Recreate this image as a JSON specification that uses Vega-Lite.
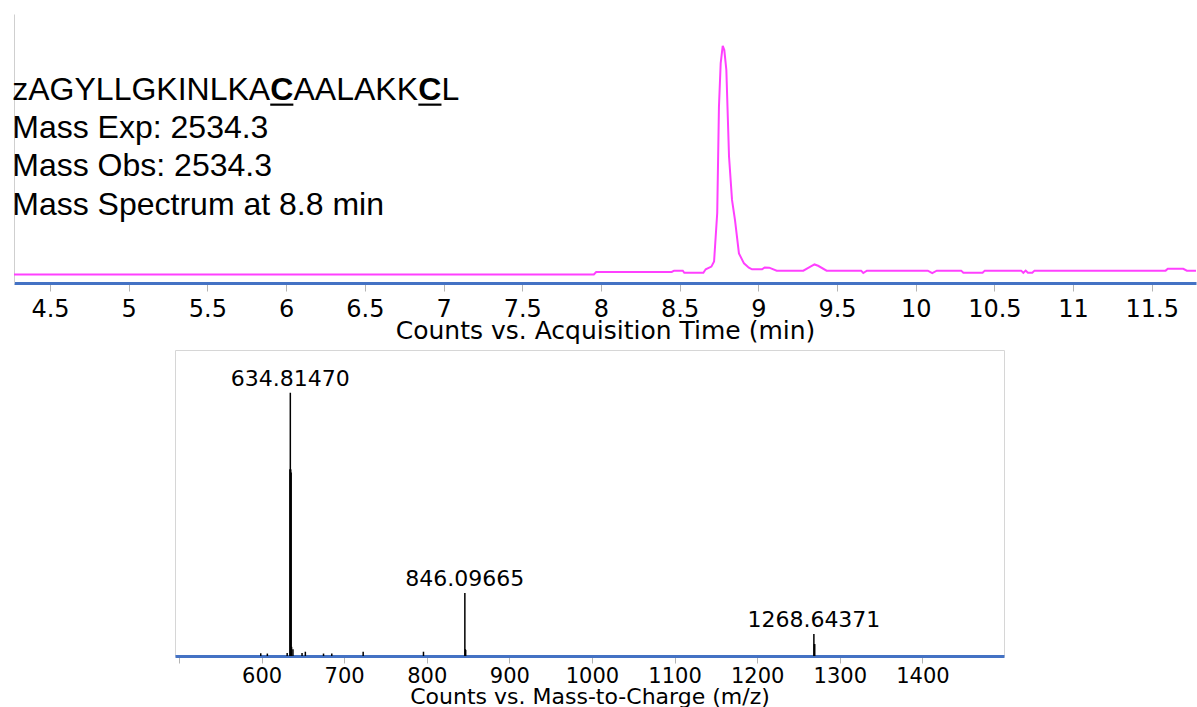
{
  "$schema": "https://vega.github.io/schema/vega-lite/v6.json",
  "padding": {"left": 10, "top": 14, "right": 0, "bottom": 0},
  "background": "white",
  "spacing": 6,
  "config": {
    "view": {"stroke": null},
    "font": "DejaVu Sans",
    "axis": {"labelColor": "#000000", "titleColor": "#000000", "titleFontWeight": "normal", "grid": false}
  },
  "vconcat": [
    {
      "width": 1182,
      "height": 269,
      "data": {"values": [
        {"time": 4.271, "counts": 3.2}, {"time": 7.955, "counts": 3.2}, {"time": 7.970, "counts": 4.1},
        {"time": 8.450, "counts": 4.1}, {"time": 8.465, "counts": 4.6}, {"time": 8.520, "counts": 4.6},
        {"time": 8.530, "counts": 3.8}, {"time": 8.651, "counts": 3.8}, {"time": 8.666, "counts": 5.1},
        {"time": 8.702, "counts": 6.1}, {"time": 8.719, "counts": 8.0}, {"time": 8.739, "counts": 26.0},
        {"time": 8.750, "counts": 65.5}, {"time": 8.761, "counts": 81.7}, {"time": 8.774, "counts": 88.2},
        {"time": 8.784, "counts": 86.6}, {"time": 8.797, "counts": 79.2}, {"time": 8.814, "counts": 47.0},
        {"time": 8.833, "counts": 30.9}, {"time": 8.852, "counts": 23.4}, {"time": 8.877, "counts": 11.0},
        {"time": 8.909, "counts": 7.3}, {"time": 8.940, "counts": 5.7}, {"time": 8.960, "counts": 5.1},
        {"time": 9.024, "counts": 5.1}, {"time": 9.041, "counts": 5.8}, {"time": 9.069, "counts": 5.7},
        {"time": 9.117, "counts": 4.6}, {"time": 9.286, "counts": 4.6}, {"time": 9.323, "counts": 5.8},
        {"time": 9.357, "counts": 6.9}, {"time": 9.380, "counts": 6.4}, {"time": 9.434, "counts": 4.6},
        {"time": 9.653, "counts": 4.6}, {"time": 9.667, "counts": 3.7}, {"time": 9.690, "counts": 4.6},
        {"time": 10.077, "counts": 4.6}, {"time": 10.105, "counts": 3.7}, {"time": 10.134, "counts": 4.6},
        {"time": 10.289, "counts": 4.6}, {"time": 10.303, "counts": 3.8}, {"time": 10.425, "counts": 3.8},
        {"time": 10.439, "counts": 4.6}, {"time": 10.670, "counts": 4.6}, {"time": 10.684, "counts": 3.8},
        {"time": 10.699, "counts": 4.6}, {"time": 10.713, "counts": 3.8}, {"time": 10.741, "counts": 3.8},
        {"time": 10.755, "counts": 4.6}, {"time": 11.588, "counts": 4.6}, {"time": 11.602, "counts": 5.3},
        {"time": 11.700, "counts": 5.3}, {"time": 11.723, "counts": 4.6}, {"time": 11.781, "counts": 4.6}
      ]},
      "layer": [
        {
          "mark": {"type": "line", "color": "#ff40ff", "strokeWidth": 2},
          "encoding": {
            "x": {
              "field": "time", "type": "quantitative",
              "scale": {"domain": [4.271, 11.781], "nice": false, "zero": false},
              "axis": {
                "title": "Counts vs. Acquisition Time (min)",
                "values": [4.5, 5, 5.5, 6, 6.5, 7, 7.5, 8, 8.5, 9, 9.5, 10, 10.5, 11, 11.5],
                "format": ".1~f",
                "domainColor": "#4472C4", "domainWidth": 3,
                "tickColor": "#b4b4b4", "tickSize": 8, "tickWidth": 1,
                "labelFontSize": 24, "labelPadding": 6, "labelFlush": false, "labelOverlap": false,
                "titleFontSize": 25, "titlePadding": -3
              }
            },
            "y": {
              "field": "counts", "type": "quantitative",
              "scale": {"domain": [0, 100], "nice": false},
              "axis": {"title": null, "labels": false, "ticks": false, "domainColor": "#cfcfcf", "domainWidth": 1}
            }
          }
        },
        {
          "data": {"values": [{}]},
          "mark": {"type": "text", "text": "zAGYLLGKINLKA", "align": "left", "baseline": "alphabetic", "font": "Liberation Sans", "fontSize": 32, "color": "#000000"},
          "encoding": {"x": {"datum": 4.260, "type": "quantitative"}, "y": {"datum": 68.0, "type": "quantitative"}}
        },
        {
          "data": {"values": [{}]},
          "mark": {"type": "text", "text": "C", "align": "left", "baseline": "alphabetic", "font": "Liberation Sans", "fontSize": 32, "fontWeight": "bold", "color": "#000000"},
          "encoding": {"x": {"datum": 5.899, "type": "quantitative"}, "y": {"datum": 68.0, "type": "quantitative"}}
        },
        {
          "data": {"values": [{}]},
          "mark": {"type": "text", "text": "AALAKK", "align": "left", "baseline": "alphabetic", "font": "Liberation Sans", "fontSize": 32, "color": "#000000"},
          "encoding": {"x": {"datum": 6.047, "type": "quantitative"}, "y": {"datum": 68.0, "type": "quantitative"}}
        },
        {
          "data": {"values": [{}]},
          "mark": {"type": "text", "text": "C", "align": "left", "baseline": "alphabetic", "font": "Liberation Sans", "fontSize": 32, "fontWeight": "bold", "color": "#000000"},
          "encoding": {"x": {"datum": 6.840, "type": "quantitative"}, "y": {"datum": 68.0, "type": "quantitative"}}
        },
        {
          "data": {"values": [{}]},
          "mark": {"type": "text", "text": "L", "align": "left", "baseline": "alphabetic", "font": "Liberation Sans", "fontSize": 32, "color": "#000000"},
          "encoding": {"x": {"datum": 6.987, "type": "quantitative"}, "y": {"datum": 68.0, "type": "quantitative"}}
        },
        {
          "data": {"values": [{}]},
          "mark": {"type": "rule", "color": "#000000", "strokeWidth": 2.2},
          "encoding": {"x": {"datum": 5.899, "type": "quantitative"}, "x2": {"datum": 6.046}, "y": {"datum": 66.3, "type": "quantitative"}}
        },
        {
          "data": {"values": [{}]},
          "mark": {"type": "rule", "color": "#000000", "strokeWidth": 2.2},
          "encoding": {"x": {"datum": 6.840, "type": "quantitative"}, "x2": {"datum": 6.987}, "y": {"datum": 66.3, "type": "quantitative"}}
        },
        {
          "data": {"values": [{}]},
          "mark": {"type": "text", "text": ["Mass Exp: 2534.3", "Mass Obs: 2534.3", "Mass Spectrum at 8.8 min"], "lineHeight": 38.6, "align": "left", "baseline": "alphabetic", "font": "Liberation Sans", "fontSize": 32, "color": "#000000"},
          "encoding": {"x": {"datum": 4.260, "type": "quantitative"}, "y": {"datum": 54.0, "type": "quantitative"}}
        }
      ]
    },
    {
      "spacing": 0,
      "hconcat": [
        {
          "width": 160,
          "height": 10,
          "data": {"values": []},
          "mark": {"type": "point", "opacity": 0}
        },
        {
          "width": 829,
          "height": 306,
          "view": {"stroke": "#d6d6d6"},
          "data": {"values": [
            {"mz": 599.0, "intensity": 0.9},
            {"mz": 607.0, "intensity": 0.8},
            {"mz": 631.0, "intensity": 1.0},
            {"mz": 634.31, "intensity": 61.0},
            {"mz": 634.81, "intensity": 86.0, "label": "634.81470"},
            {"mz": 635.31, "intensity": 61.0},
            {"mz": 635.81, "intensity": 60.0},
            {"mz": 636.31, "intensity": 3.0},
            {"mz": 638.0, "intensity": 2.2},
            {"mz": 649.0, "intensity": 1.0},
            {"mz": 653.0, "intensity": 1.4},
            {"mz": 675.0, "intensity": 0.8},
            {"mz": 685.0, "intensity": 0.8},
            {"mz": 723.0, "intensity": 1.4},
            {"mz": 796.0, "intensity": 1.4},
            {"mz": 846.10, "intensity": 20.6, "label": "846.09665"},
            {"mz": 846.6, "intensity": 2.2},
            {"mz": 847.1, "intensity": 2.0},
            {"mz": 1268.64, "intensity": 7.2, "label": "1268.64371"},
            {"mz": 1269.14, "intensity": 3.9},
            {"mz": 1269.64, "intensity": 3.9}
          ]},
          "encoding": {
            "x": {
              "field": "mz", "type": "quantitative",
              "scale": {"domain": [495.2, 1498.8], "nice": false, "zero": false},
              "axis": {
                "title": "Counts vs. Mass-to-Charge (m/z)",
                "values": [500, 600, 700, 800, 900, 1000, 1100, 1200, 1300, 1400],
                "format": "d",
                "labelExpr": "datum.value == 500 ? '' : datum.label",
                "domainColor": "#4472C4", "domainWidth": 3,
                "tickColor": "#b4b4b4", "tickSize": 7, "tickWidth": 1,
                "labelFontSize": 21, "labelPadding": 2, "labelFlush": false, "labelOverlap": false,
                "titleFontSize": 22, "titlePadding": 0
              }
            },
            "y": {
              "field": "intensity", "type": "quantitative",
              "scale": {"domain": [0, 100], "nice": false},
              "axis": null
            }
          },
          "layer": [
            {
              "mark": {"type": "rule", "color": "#000000", "strokeWidth": 1.5},
              "encoding": {"y2": {"datum": 0}}
            },
            {
              "transform": [{"filter": "datum.label != null"}],
              "mark": {"type": "text", "baseline": "alphabetic", "align": "center", "dy": -7, "fontSize": 22, "color": "#000000"},
              "encoding": {"text": {"field": "label", "type": "nominal"}}
            }
          ]
        }
      ]
    }
  ]
}
